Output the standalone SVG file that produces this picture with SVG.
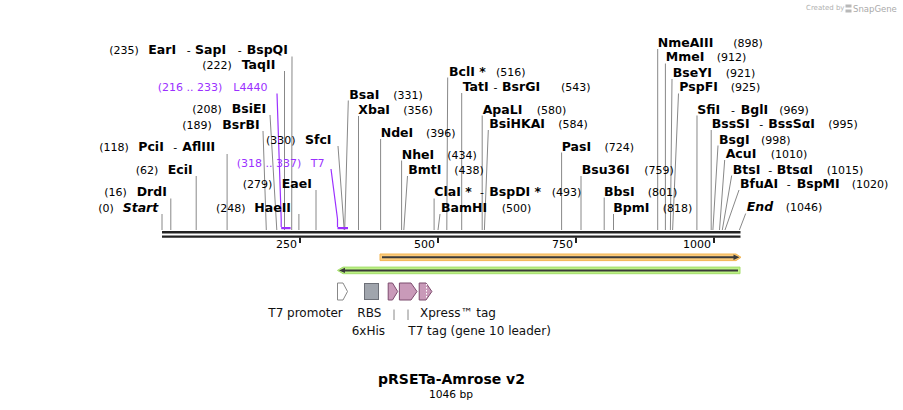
<svg xmlns="http://www.w3.org/2000/svg" width="903" height="410" viewBox="0 0 903 410">
<style>
text{font-family:"DejaVu Sans",Verdana,sans-serif;fill:#000}
.n{font-size:11px}
.b{font-size:12.5px;font-weight:bold}
.i{font-size:12.5px;font-weight:bold;font-style:italic}
.h{font-size:11px}
.p{fill:#9b30ff;font-size:11px}
.f{font-size:12px;fill:#111}
.tk{font-size:11px}
.cl line{stroke:#888;stroke-width:1}
.pl{stroke:#9b30ff;stroke-width:1.2;fill:none}
</style>
<rect width="903" height="410" fill="#fff"/>

<g id="logo">
<text x="806" y="10" style="font-size:7px;fill:#b0b0b0">Created by</text>
<path d="M845.5 4.5 h6 v3 h-3 v2 h3 v3 h-6 v-3 h3 v-2 h-3 z" fill="#b8b8b8"/>
<text x="853" y="11.5" style="font-size:8.5px;fill:#aaa">SnapGene</text>
</g>

<g id="backbone">
<line x1="162" y1="232.2" x2="740.5" y2="232.2" stroke="#222" stroke-width="2.4"/>
<line x1="162" y1="236.6" x2="740.5" y2="236.6" stroke="#222" stroke-width="2.4"/>
<g stroke="#222" stroke-width="2">
<line x1="300" y1="237.5" x2="300" y2="243"/>
<line x1="438" y1="237.5" x2="438" y2="243"/>
<line x1="576" y1="237.5" x2="576" y2="243"/>
<line x1="714" y1="237.5" x2="714" y2="243"/>
</g>
<text class="tk" x="297" y="248" text-anchor="end">250</text>
<text class="tk" x="435" y="248" text-anchor="end">500</text>
<text class="tk" x="573" y="248" text-anchor="end">750</text>
<text class="tk" x="711" y="248" text-anchor="end">1000</text>
</g>

<g id="connectors">
<g class="cl">
<line x1="292" y1="56.5" x2="291.7" y2="230"/>
<line x1="284.5" y1="71" x2="284.5" y2="230"/>
<line x1="270" y1="115" x2="276.8" y2="230"/>
<line x1="263" y1="131" x2="266.3" y2="230"/>
<line x1="338" y1="146" x2="344.2" y2="230"/>
<line x1="227.1" y1="154" x2="227.1" y2="230"/>
<line x1="196.2" y1="176" x2="196.2" y2="230"/>
<line x1="316" y1="190" x2="316" y2="230"/>
<line x1="170.8" y1="198.5" x2="170.8" y2="230"/>
<line x1="298.9" y1="214" x2="298.9" y2="230"/>
<line x1="162" y1="214" x2="162" y2="230"/>
<line x1="348.3" y1="100.5" x2="344.7" y2="230"/>
<line x1="358.5" y1="116" x2="358.5" y2="230"/>
<line x1="380.6" y1="139" x2="380.6" y2="230"/>
<line x1="447.7" y1="77.5" x2="446.8" y2="230"/>
<line x1="461.7" y1="93" x2="461.7" y2="230"/>
<line x1="482.2" y1="115.5" x2="482.2" y2="230"/>
<line x1="488.3" y1="130" x2="484.4" y2="230"/>
<line x1="401.6" y1="160.5" x2="401.6" y2="230"/>
<line x1="407.5" y1="176" x2="403.8" y2="230"/>
<line x1="434.1" y1="198.5" x2="434.1" y2="230"/>
<line x1="440" y1="214" x2="438" y2="230"/>
<line x1="561.6" y1="152.5" x2="561.6" y2="230"/>
<line x1="581" y1="176" x2="581" y2="230"/>
<line x1="604.2" y1="197.5" x2="604.2" y2="230"/>
<line x1="613.5" y1="214" x2="613.5" y2="230"/>
<line x1="657.7" y1="49" x2="657.7" y2="230"/>
<line x1="665.4" y1="63.5" x2="665.4" y2="230"/>
<line x1="672" y1="79" x2="670.4" y2="230"/>
<line x1="678.5" y1="93.5" x2="672.6" y2="230"/>
<line x1="697" y1="115.5" x2="696.9" y2="230"/>
<line x1="711.2" y1="130" x2="711.2" y2="230"/>
<line x1="718" y1="145.5" x2="712.9" y2="230"/>
<line x1="724.7" y1="160" x2="719.5" y2="230"/>
<line x1="731.7" y1="175.5" x2="722.3" y2="230"/>
<line x1="739" y1="190" x2="725" y2="230"/>
<line x1="745.7" y1="213.5" x2="739.4" y2="230"/>
<line x1="394" y1="309.5" x2="394" y2="320"/>
<line x1="408" y1="309.5" x2="408" y2="320"/>
</g>
<polyline class="pl" points="277,93.5 281.2,219 281.2,227"/>
<polyline class="pl" points="331,169 337.5,219 337.5,227"/>
<rect x="281.2" y="227" width="9.4" height="2.2" fill="#9b30ff"/>
<rect x="337.5" y="227" width="10.5" height="2.2" fill="#9b30ff"/>
</g>

<g id="L_EarI"><text y="53.5"><tspan class="n" x="109.3">(235)</tspan><tspan class="b" x="148.3">EarI</tspan><tspan class="h" x="186.7">-</tspan><tspan class="b" x="195">SapI</tspan><tspan class="h" x="237.7">-</tspan><tspan class="b" x="246.7">BspQI</tspan></text></g>
<g id="L_TaqII"><text y="68.8"><tspan class="n" x="202.3">(222)</tspan><tspan class="b" x="241.7">TaqII</tspan></text></g>
<g id="L_L4440"><text y="91"><tspan class="p" x="157.7">(216 .. 233)</tspan><tspan class="p" x="233.3">L4440</tspan></text></g>
<g id="L_BsiEI"><text y="112.8"><tspan class="n" x="192.3">(208)</tspan><tspan class="b" x="231.7">BsiEI</tspan></text></g>
<g id="L_BsrBI"><text y="128.5"><tspan class="n" x="182.3">(189)</tspan><tspan class="b" x="222.3">BsrBI</tspan></text></g>
<g id="L_SfcI"><text y="143.8"><tspan class="n" x="266">(330)</tspan><tspan class="b" x="305">SfcI</tspan></text></g>
<g id="L_PciI"><text y="151.2"><tspan class="n" x="99.3">(118)</tspan><tspan class="b" x="138.3">PciI</tspan><tspan class="h" x="173.3">-</tspan><tspan class="b" x="182.3">AflIII</tspan></text></g>
<g id="L_T7"><text y="166.8"><tspan class="p" x="236.7">(318 .. 337)</tspan><tspan class="p" x="310.7">T7</tspan></text></g>
<g id="L_EciI"><text y="173.5"><tspan class="n" x="135.7">(62)</tspan><tspan class="b" x="167.7">EciI</tspan></text></g>
<g id="L_EaeI"><text y="187.8"><tspan class="n" x="242.7">(279)</tspan><tspan class="b" x="281.7">EaeI</tspan></text></g>
<g id="L_DrdI"><text y="196.2"><tspan class="n" x="104.3">(16)</tspan><tspan class="b" x="136.7">DrdI</tspan></text></g>
<g id="L_HaeII"><text y="211.5"><tspan class="n" x="216">(248)</tspan><tspan class="b" x="254.3">HaeII</tspan></text></g>
<g id="L_Start"><text y="211.5"><tspan class="n" x="98.3">(0)</tspan><tspan class="i" x="122.7">Start</tspan></text></g>

<g id="L_BsaI"><text y="98.5"><tspan class="b" x="349.3">BsaI</tspan><tspan class="n" x="393.3">(331)</tspan></text></g>
<g id="L_XbaI"><text y="113.8"><tspan class="b" x="358.3">XbaI</tspan><tspan class="n" x="403.3">(356)</tspan></text></g>
<g id="L_NdeI"><text y="136.8"><tspan class="b" x="380.7">NdeI</tspan><tspan class="n" x="426">(396)</tspan></text></g>
<g id="L_BclI"><text y="75.5"><tspan class="b" x="449">BclI *</tspan><tspan class="n" x="496">(516)</tspan></text></g>
<g id="L_TatI"><text y="91.2"><tspan class="b" x="462.7">TatI</tspan><tspan class="h" x="493.5">-</tspan><tspan class="b" x="502">BsrGI</tspan><tspan class="n" x="561">(543)</tspan></text></g>
<g id="L_ApaLI"><text y="113.5"><tspan class="b" x="482.7">ApaLI</tspan><tspan class="n" x="536.7">(580)</tspan></text></g>
<g id="L_BsiHKAI"><text y="127.8"><tspan class="b" x="489.3">BsiHKAI</tspan><tspan class="n" x="558.3">(584)</tspan></text></g>
<g id="L_PasI"><text y="150.5"><tspan class="b" x="561.7">PasI</tspan><tspan class="n" x="604.5">(724)</tspan></text></g>
<g id="L_NheI"><text y="158.5"><tspan class="b" x="401.7">NheI</tspan><tspan class="n" x="447.3">(434)</tspan></text></g>
<g id="L_BmtI"><text y="173.8"><tspan class="b" x="408.3">BmtI</tspan><tspan class="n" x="454.3">(438)</tspan></text></g>
<g id="L_Bsu36I"><text y="173.8"><tspan class="b" x="581.7">Bsu36I</tspan><tspan class="n" x="644.3">(759)</tspan></text></g>
<g id="L_ClaI"><text y="196.2"><tspan class="b" x="434.3">ClaI *</tspan><tspan class="h" x="480">-</tspan><tspan class="b" x="489.3">BspDI *</tspan><tspan class="n" x="551.7">(493)</tspan></text></g>
<g id="L_BbsI"><text y="195.5"><tspan class="b" x="604">BbsI</tspan><tspan class="n" x="647.7">(801)</tspan></text></g>
<g id="L_BamHI"><text y="211.8"><tspan class="b" x="441">BamHI</tspan><tspan class="n" x="501.7">(500)</tspan></text></g>
<g id="L_BpmI"><text y="211.8"><tspan class="b" x="613.3">BpmI</tspan><tspan class="n" x="662.7">(818)</tspan></text></g>
<g id="L_NmeAIII"><text y="46.8"><tspan class="b" x="657.7">NmeAIII</tspan><tspan class="n" x="733.3">(898)</tspan></text></g>
<g id="L_MmeI"><text y="61.2"><tspan class="b" x="665.7">MmeI</tspan><tspan class="n" x="716.7">(912)</tspan></text></g>
<g id="L_BseYI"><text y="76.8"><tspan class="b" x="672.7">BseYI</tspan><tspan class="n" x="725.7">(921)</tspan></text></g>
<g id="L_PspFI"><text y="91.2"><tspan class="b" x="679.3">PspFI</tspan><tspan class="n" x="730.7">(925)</tspan></text></g>
<g id="L_SfiI"><text y="113.5"><tspan class="b" x="697.3">SfiI</tspan><tspan class="h" x="731">-</tspan><tspan class="b" x="740.7">BglI</tspan><tspan class="n" x="779.3">(969)</tspan></text></g>
<g id="L_BssSI"><text y="127.8"><tspan class="b" x="711.7">BssSI</tspan><tspan class="h" x="759.3">-</tspan><tspan class="b" x="768.3">BssSαI</tspan><tspan class="n" x="828.3">(995)</tspan></text></g>
<g id="L_BsgI"><text y="143.5"><tspan class="b" x="719">BsgI</tspan><tspan class="n" x="761">(998)</tspan></text></g>
<g id="L_AcuI"><text y="157.8"><tspan class="b" x="725.7">AcuI</tspan><tspan class="n" x="770.7">(1010)</tspan></text></g>
<g id="L_BtsI"><text y="173.5"><tspan class="b" x="732.7">BtsI</tspan><tspan class="h" x="768.3">-</tspan><tspan class="b" x="776.7">BtsαI</tspan><tspan class="n" x="826.7">(1015)</tspan></text></g>
<g id="L_BfuAI"><text y="187.8"><tspan class="b" x="740">BfuAI</tspan><tspan class="h" x="786.7">-</tspan><tspan class="b" x="796.7">BspMI</tspan><tspan class="n" x="851.7">(1020)</tspan></text></g>
<g id="L_End"><text y="211.2"><tspan class="i" x="746.7">End</tspan><tspan class="n" x="785.7">(1046)</tspan></text></g>

<g id="F_orange">
<polygon points="380,254 736,254 741,257.3 736,260.6 380,260.6" fill="#fbcb7c" stroke="#f3b552" stroke-width="1"/>
<line x1="382" y1="257.3" x2="735" y2="257.3" stroke="#3a3a3a" stroke-width="2"/>
<polygon points="733.5,254.6 739.5,257.3 733.5,260" fill="#3a3a3a"/>
</g>
<g id="F_green">
<polygon points="343,267.1 740,267.1 740,273.7 343,273.7 337.5,270.4" fill="#bdf285" stroke="#a3dd6a" stroke-width="1"/>
<line x1="345" y1="270.4" x2="738" y2="270.4" stroke="#3a3a3a" stroke-width="2"/>
<polygon points="345,267.7 339,270.4 345,273.1" fill="#3a3a3a"/>
</g>

<g id="F_T7promoter">
<polygon points="337.5,283 343,283 347.5,291.5 343,300 337.5,300" fill="#fff" stroke="#888" stroke-width="1"/>
<text class="f" x="268.3" y="316.5">T7 promoter</text>
</g>
<g id="F_RBS">
<rect x="364.5" y="283.5" width="14" height="16" fill="#a0a5ad" stroke="#6d7078" stroke-width="1"/>
<text class="f" x="357.3" y="316.5">RBS</text>
</g>
<g id="F_6xHis">
<polygon points="388.2,283 392.5,283 397.7,291.5 392.5,300 388.2,300" fill="#c99ab9" stroke="#7d4c6e" stroke-width="1"/>
<text class="f" x="351.7" y="335">6xHis</text>
</g>
<g id="F_T7tag">
<polygon points="399.4,283 411,283 417,291.5 411,300 399.4,300" fill="#c99ab9" stroke="#7d4c6e" stroke-width="1"/>
<text class="f" x="408.3" y="335">T7 tag (gene 10 leader)</text>
</g>
<g id="F_Xpress">
<polygon points="419.2,283 426,283 431.9,291.5 426,300 419.2,300" fill="#c99ab9" stroke="#7d4c6e" stroke-width="1"/>
<line x1="426.5" y1="284" x2="426.5" y2="299" stroke="#fff" stroke-width="1" stroke-dasharray="1.5,1.5"/>
<text class="f" x="420" y="316.5">Xpress™ tag</text>
</g>

<g id="title">
<text x="451.5" y="383.5" text-anchor="middle" style="font-size:14px;font-weight:bold">pRSETa-Amrose v2</text>
<text x="451" y="398" text-anchor="middle" style="font-size:10.7px">1046 bp</text>
</g>
</svg>
